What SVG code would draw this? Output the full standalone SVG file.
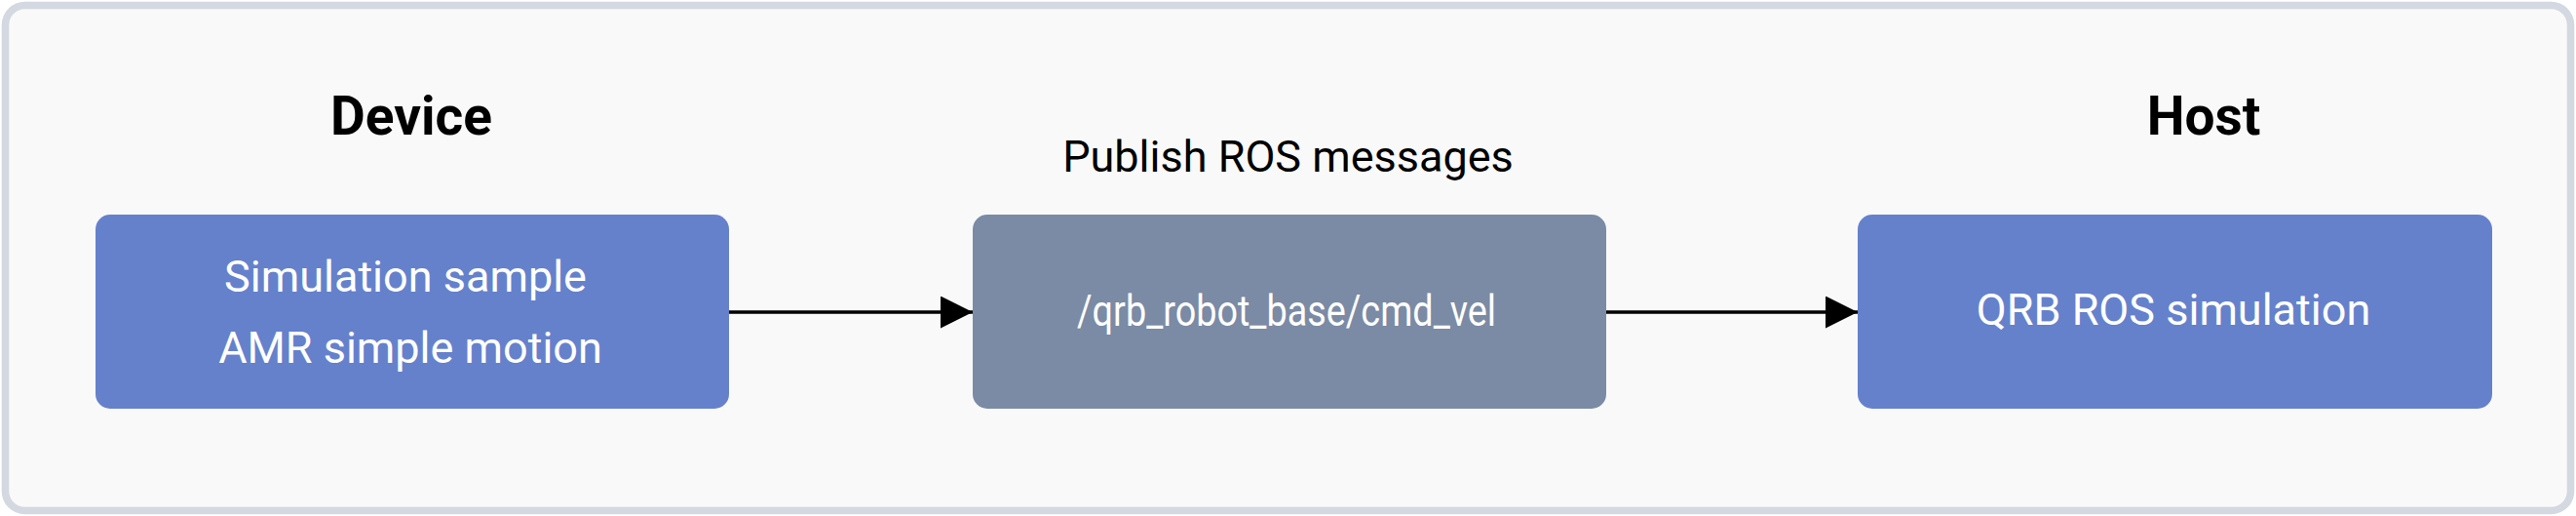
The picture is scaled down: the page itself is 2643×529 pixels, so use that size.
<svg xmlns="http://www.w3.org/2000/svg" width="2643" height="529" viewBox="0 0 2643 529">
  <defs>
    <style>
      .frame { fill: #f9f9f9; stroke: #d3d8e1; stroke-width: 7.5; }
      .blue { fill: #6581cc; }
      .gray { fill: #7b8aa5; }
      .title { font-family: Roboto, "Liberation Sans", sans-serif; font-weight: bold; font-size: 55px; fill: #000; text-anchor: middle; }
      .label { font-family: Roboto, "Liberation Sans", sans-serif; font-size: 45px; fill: #000; text-anchor: middle; }
      .nodetext { font-family: Roboto, "Liberation Sans", sans-serif; font-size: 45px; fill: #fff; text-anchor: middle; }
      .edge { stroke: #000; stroke-width: 3.3; fill: none; }
    </style>
    <marker id="arrow" markerWidth="33" markerHeight="33" refX="33" refY="16.5" markerUnits="userSpaceOnUse" orient="auto">
      <path d="M0,0 L33,16.5 L0,33 Z" fill="#000"/>
    </marker>
  </defs>
  <rect class="frame" x="5.5" y="5.5" width="2632" height="518" rx="20" ry="20"/>
  <text class="title" x="422" y="138">Device</text>
  <text class="title" x="2261" y="138">Host</text>
  <text class="label" x="1321.5" y="176">Publish ROS messages</text>
  <g id="connectors">
    <line class="edge" x1="748" y1="320" x2="998" y2="320" marker-end="url(#arrow)"/>
    <line class="edge" x1="1648" y1="320" x2="1906" y2="320" marker-end="url(#arrow)"/>
  </g>
  <g id="node-device">
    <rect class="blue" x="98" y="220" width="650" height="199" rx="15" ry="15"/>
    <text class="nodetext" x="416" y="299">Simulation sample</text>
    <text class="nodetext" x="421" y="372">AMR simple motion</text>
  </g>
  <g id="node-topic">
    <rect class="gray" x="998" y="220" width="650" height="199" rx="15" ry="15"/>
    <text class="nodetext" x="1320" y="334" textLength="430" lengthAdjust="spacingAndGlyphs">/qrb_robot_base/cmd_vel</text>
  </g>
  <g id="node-host">
    <rect class="blue" x="1906" y="220" width="651" height="199" rx="15" ry="15"/>
    <text class="nodetext" x="2230" y="333">QRB ROS simulation</text>
  </g>
</svg>
